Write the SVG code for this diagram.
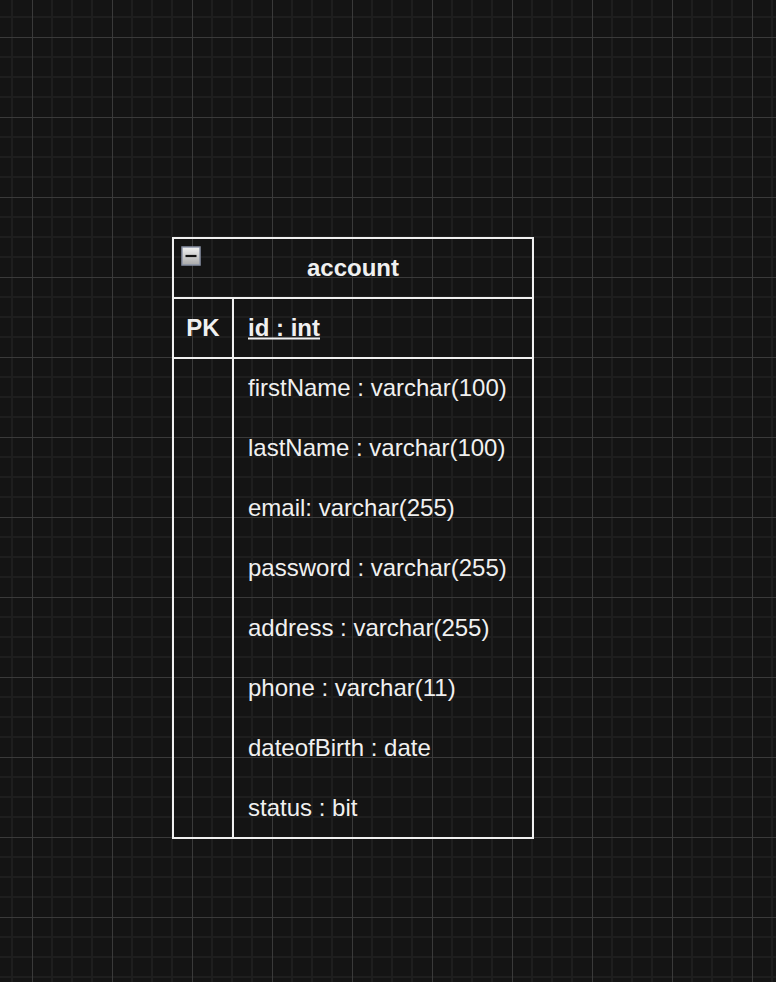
<svg xmlns="http://www.w3.org/2000/svg" width="776" height="982" viewBox="0 0 776 982">
<style>
.t{font-family:"Liberation Sans",Arial,sans-serif;font-size:24px;fill:#f0f0f0}
.b{font-weight:bold}
.ln{stroke:#f0f0f0;stroke-width:2;fill:none}
</style>
<defs>
<pattern id="grid" patternUnits="userSpaceOnUse" x="32" y="37" width="80" height="80">
<path d="M20 0V80M40 0V80M60 0V80M0 20H80M0 40H80M0 60H80" stroke="#1e1e1e" stroke-width="2"/>
<path d="M0.5 0V80M0 0.5H80" stroke="#3a3a3a" stroke-width="1"/>
</pattern>
<linearGradient id="btn" x1="0" y1="0" x2="0" y2="1">
<stop offset="0" stop-color="#f2f2f2"/>
<stop offset="1" stop-color="#a9a9a9"/>
</linearGradient>
</defs>
<rect width="776" height="982" fill="#141414"/>
<rect width="776" height="982" fill="url(#grid)"/>
<g id="account">
<rect class="ln" x="173" y="238" width="360" height="600"/>
<line class="ln" x1="173" y1="298" x2="533" y2="298"/>
<line class="ln" x1="173" y1="358" x2="533" y2="358"/>
<line class="ln" x1="233" y1="298" x2="233" y2="838"/>
<rect x="182" y="247" width="18" height="18" fill="url(#btn)" stroke="#8a93a6" stroke-width="1.5"/>
<line x1="185.5" y1="256" x2="196.5" y2="256" stroke="#111" stroke-width="2.2"/>
<text class="t b" x="353" y="275.5" text-anchor="middle">account</text>
<text class="t b" x="203" y="335.5" text-anchor="middle">PK</text>
<text class="t b" x="248" y="335.5">id : int</text>
<line x1="248" y1="338.5" x2="320" y2="338.5" stroke="#f0f0f0" stroke-width="2"/>
<text class="t" x="248" y="395.5">firstName : varchar(100)</text>
<text class="t" x="248" y="455.5">lastName : varchar(100)</text>
<text class="t" x="248" y="515.5">email: varchar(255)</text>
<text class="t" x="248" y="575.5">password : varchar(255)</text>
<text class="t" x="248" y="635.5">address : varchar(255)</text>
<text class="t" x="248" y="695.5">phone : varchar(11)</text>
<text class="t" x="248" y="755.5">dateofBirth : date</text>
<text class="t" x="248" y="815.5">status : bit</text>
</g>
</svg>
